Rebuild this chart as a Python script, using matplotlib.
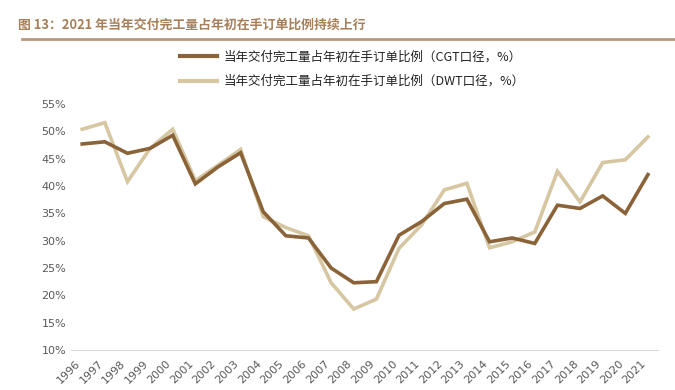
import matplotlib
matplotlib.use("Agg")
import matplotlib.pyplot as plt
from matplotlib.lines import Line2D
from matplotlib.transforms import ScaledTranslation

plt.rcParams['font.family'] = ['Noto Sans CJK SC', 'DejaVu Sans']

years = [str(y) for y in range(1996, 2022)]
cgt = [47.7, 48.1, 46.0, 46.9, 49.3, 40.4, 43.5, 46.1, 35.3, 30.9, 30.5, 25.0, 22.3,
       22.5, 31.0, 33.5, 36.8, 37.6, 29.8, 30.5, 29.5, 36.5, 35.9, 38.2, 35.0, 42.1]
dwt = [50.4, 51.6, 40.8, 46.9, 50.4, 41.0, 43.8, 46.7, 34.4, 32.4, 30.9, 22.3, 17.5,
       19.3, 28.6, 32.9, 39.3, 40.5, 28.7, 29.8, 31.6, 42.7, 37.1, 44.3, 44.8, 49.0]
yticks = [10, 15, 20, 25, 30, 35, 40, 45, 50, 55]
title = "图 13：2021 年当年交付完工量占年初在手订单比例持续上行"
label_cgt = "当年交付完工量占年初在手订单比例（CGT口径，%）"
label_dwt = "当年交付完工量占年初在手订单比例（DWT口径，%）"

c_dark = "#8B6338"
c_light = "#D6C6A2"
c_title = "#A7805A"

fig = plt.figure(figsize=(6.75, 3.90), dpi=100)
fig.text(0.026, 0.937, title, fontsize=9.3, fontweight='bold', color=c_title, va='center')
fig.add_artist(Line2D([0.033, 1.0], [0.9, 0.9], color=c_title, lw=2, alpha=0.8))

ax = fig.add_axes([0.105, 0.1026, 0.87, 0.6305])
x = list(range(len(years)))
ax.plot(x, dwt, color=c_light, lw=2.6, solid_joinstyle='miter', zorder=2)
ax.plot(x, cgt, color=c_dark, lw=2.6, solid_joinstyle='miter', zorder=3)
ax.set_xlim(-0.5, len(years) - 0.55)
ax.set_ylim(10, 55)
ax.set_yticks(yticks)
ax.set_yticklabels([f"{v}%" for v in yticks], fontsize=8, color='#595959', family='DejaVu Sans')
ax.set_xticks(x)
ax.set_xticklabels(years, rotation=45, fontsize=8, color='#595959', family='DejaVu Sans',
                   ha='right', va='top')
offset = ScaledTranslation(3 / 72, 0, fig.dpi_scale_trans)
for lab in ax.get_xticklabels():
    lab.set_transform(lab.get_transform() + offset)
for s in ['top', 'right', 'left']:
    ax.spines[s].set_visible(False)
ax.spines['bottom'].set_color('#D9D9D9')
ax.tick_params(axis='both', length=0)
ax.tick_params(axis='x', pad=6)

handles = [Line2D([], [], color=c_dark, lw=3), Line2D([], [], color=c_light, lw=3)]
fig.legend(handles, [label_cgt, label_dwt], loc='center', bbox_to_anchor=(0.522, 0.822),
           frameon=False, fontsize=9, handlelength=3.0, labelspacing=0.9, handletextpad=0.5,
           labelcolor='#222222')

fig.savefig("out.png", dpi=100)
